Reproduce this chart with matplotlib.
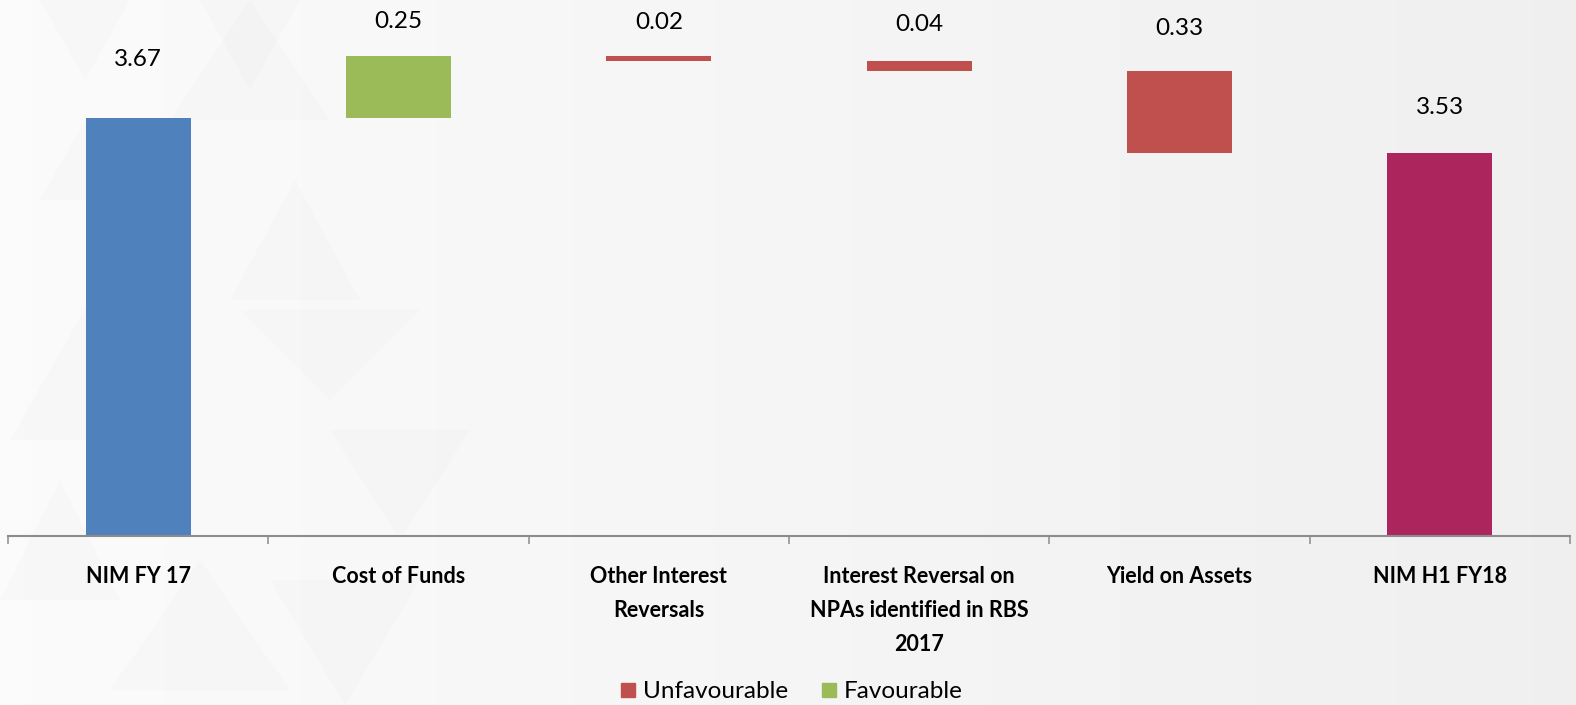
import matplotlib.pyplot as plt
from matplotlib.lines import Line2D
from matplotlib.patches import Polygon
import numpy as np

plt.rcParams['font.family'] = ['Lato', 'DejaVu Sans']

categories = ['NIM FY 17', 'Cost of Funds', 'Other Interest\nReversals',
              'Interest Reversal on\nNPAs identified in RBS\n2017',
              'Yield on Assets', 'NIM H1 FY18']
nim_start = 3.67
changes = [0.25, -0.02, -0.04, -0.33]
nim_end = 3.53

# gap between bar top and its value label (axis units)
label_gap = [0.236, 0.136, 0.133, 0.145, 0.168, 0.184]

blue = '#4F81BD'
green = '#9BBB59'
red = '#C0504D'
plum = '#AD255D'

fig = plt.figure(figsize=(15.76, 7.05), dpi=100)

# soft grey gradient backdrop with faint triangles
bg = fig.add_axes([0, 0, 1, 1], zorder=-2)
grad = np.linspace(0.985, 0.94, 256).reshape(1, -1)
bg.imshow(np.dstack([grad, grad, grad]), aspect='auto', extent=[0, 1576, 705, 0])
tris = [
    [(40, 0), (130, 0), (85, 80)], [(200, 0), (300, 0), (250, 90)],
    [(170, 120), (330, 120), (250, 0)], [(230, 300), (360, 300), (295, 180)],
    [(10, 440), (90, 300), (170, 440)], [(240, 310), (420, 310), (330, 400)],
    [(0, 600), (60, 480), (120, 600)], [(330, 430), (470, 430), (400, 540)],
    [(110, 690), (200, 560), (290, 690)], [(270, 580), (420, 580), (345, 705)],
    [(40, 200), (130, 200), (85, 120)],
]
for t in tris:
    bg.add_patch(Polygon(t, closed=True, facecolor='black', alpha=0.012, lw=0))
bg.set_xlim(0, 1576)
bg.set_ylim(705, 0)
bg.axis('off')

ax = fig.add_axes([8 / 1576, 1 - 535.7 / 705, 1562 / 1576, 535.7 / 705])
ax.set_facecolor('none')

# waterfall geometry
running = [nim_start]
for c in changes:
    running.append(running[-1] + c)
bottoms = [0] + [min(running[i], running[i + 1]) for i in range(len(changes))] + [0]
heights = [nim_start] + [abs(c) for c in changes] + [nim_end]
colors = [blue] + [green if c > 0 else red for c in changes] + [plum]
labels = [f'{nim_start:.2f}'] + [f'{abs(c):.2f}' for c in changes] + [f'{nim_end:.2f}']

x = np.arange(len(categories))
ymin = 2.0
base = [b if b > 0 else ymin for b in bottoms]
hts = [h if b > 0 else h - ymin for b, h in zip(bottoms, heights)]
ax.bar(x, hts, bottom=base, width=0.403, color=colors, zorder=2)

for xi, b, h, lab, g in zip(x, base, hts, labels, label_gap):
    ax.text(xi, b + h + g, lab, ha='center', va='center', fontsize=17.5,
            color='black')

ax.set_xlim(-0.5, 5.5)
ax.set_ylim(ymin, ymin + 535.7 / 250)

for s in ['top', 'left', 'right']:
    ax.spines[s].set_visible(False)
ax.spines['bottom'].set_color('#8c8c8c')
ax.spines['bottom'].set_linewidth(1.5)
ax.set_yticks([])

ax.set_xticks(x)
ax.set_xticklabels(categories, fontsize=15.5, fontweight='bold', linespacing=1.75)
ax.tick_params(axis='x', which='major', length=0, pad=22)
ax.set_xticks(np.arange(-0.5, 6, 1), minor=True)
ax.tick_params(axis='x', which='minor', length=6, width=1.1, color='#8c8c8c')

handles = [Line2D([], [], marker='s', ls='', color=red, markersize=10),
           Line2D([], [], marker='s', ls='', color=green, markersize=10)]
fig.legend(handles, ['Unfavourable', 'Favourable'], loc='center',
           bbox_to_anchor=(0.501, 0.0185), ncol=2, frameon=False, fontsize=17.5,
           handletextpad=0.1, columnspacing=1.2, handlelength=1.0)

fig.savefig('out.png', dpi=100)
